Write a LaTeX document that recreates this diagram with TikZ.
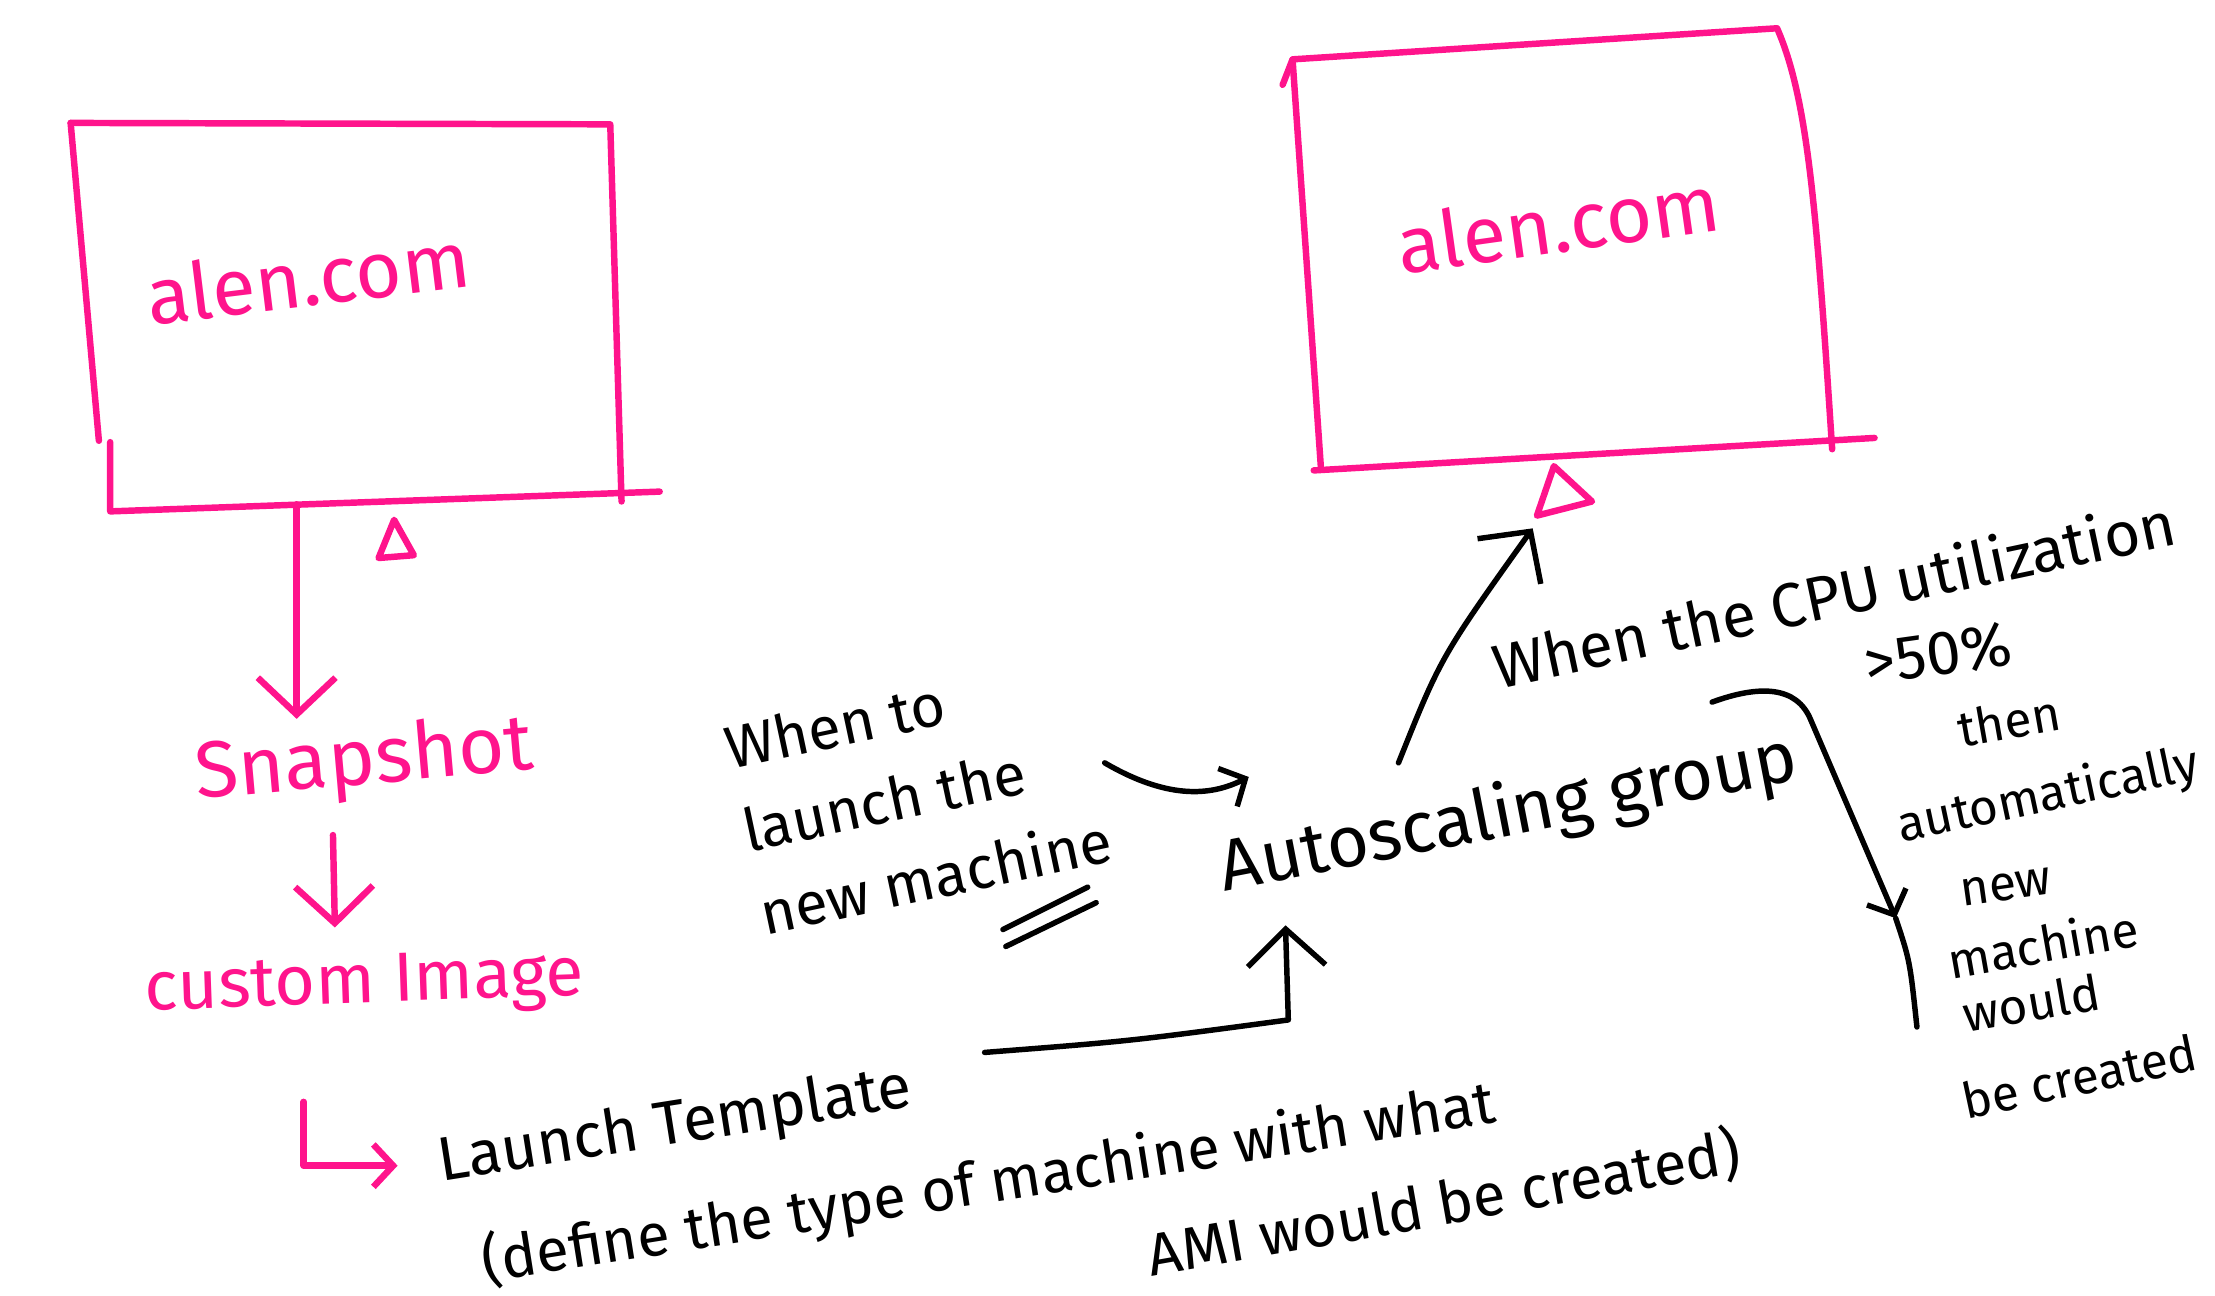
\documentclass[tikz,border=0pt]{standalone}
\usepackage{fontspec}
\setmainfont{Fira Sans}
\usetikzlibrary{positioning,arrows.meta}
\definecolor{markpink}{RGB}{255,20,140}
\tikzset{
    pinkline/.style={draw=markpink, line width=1.3pt, line cap=round, line join=round},
    inkline/.style={draw=black, line width=1.1pt, line cap=round, line join=round},
    pinktext/.style={text=markpink, font=\fontsize{16}{19}\selectfont, inner sep=1pt},
    inktext/.style={text=black, font=\fontsize{12.5}{15}\selectfont, inner sep=1pt},
    sidetext/.style={text=black, font=\fontsize{10}{12}\selectfont, inner sep=0.5pt},
    bigbarb/.style={-{Straight Barb[length=2.6mm,width=5.5mm]}},
    smallbarb/.style={-{Straight Barb[length=1.4mm,width=3mm]}}
}

\begin{document}
\begin{tikzpicture}[x=0.01cm, y=-0.01cm]
    \fill[white] (0,0) rectangle (1568,917);
    \useasboundingbox (0,0) rectangle (1568,917);

    % first machine
    \draw[pinkline] (50,87) -- (432,88) -- (440,355);
    \draw[pinkline] (50,87) -- (70,312);
    \draw[pinkline] (78,313) -- (78,362) -- (467,348);
    \draw[pinkline] (268,395) -- (293,393) -- (279,368) -- cycle;
    \node[pinktext, rotate=7] (alenA) at (218,196) {alen.com};
    \coordinate (shotA) at (210,357);

    % second machine
    \draw[pinkline] (908,60) -- (915,42) -- (1258,20)
        .. controls (1280,70) and (1286,150) .. (1297,318);
    \draw[pinkline] (915,42) -- (935,330);
    \draw[pinkline] (930,333) -- (1327,310);
    \draw[pinkline] (1088,365) -- (1127,355) -- (1100,330) -- cycle;
    \node[pinktext, rotate=8] (alenB) at (1103,158) {alen.com};
    \coordinate (triB) at (1085,374);

    % snapshot chain
    \node[pinktext, rotate=5] (snap) at (258,540) {Snapshot};
    \node[pinktext, font=\fontsize{14}{17}\selectfont, rotate=2] (custom) at (258,698) {custom Image};
    \node[inktext, rotate=9] (launch) at (478,798) {Launch Template};
    \node[inktext, font=\fontsize{12}{14}\selectfont, rotate=9] (define) at (700,838) {(define the type of machine with what};
    \node[inktext, font=\fontsize{12}{14}\selectfont, rotate=10] (ami) at (1022,852) {AMI would be created)};
    \coordinate (bendL) at (215,780);

    \draw[pinkline, bigbarb] (shotA) -- (shotA |- snap.north);
    \draw[pinkline, bigbarb] ([xshift=-0.25cm, yshift=-0.2cm]snap.south) -- ([xshift=-0.2cm, yshift=0.15cm]custom.north);
    \draw[pinkline, smallbarb] (bendL) |- ([xshift=-0.25cm]launch.west);

    % autoscaling group
    \node[inktext, font=\fontsize{14.5}{17}\selectfont, rotate=11] (asg) at (1068,577) {Autoscaling group};
    \node[inktext, align=left, font=\fontsize{12}{17}\selectfont, rotate=12] (whento) at (650,562) {When to\\launch the\\new machine};
    \coordinate (lt) at (697,745);
    \coordinate (asgIn) at (910,655);
    \coordinate (asgOut) at (990,540);
    \coordinate (hookOut) at (782,540);
    \coordinate (hookIn) at (884,550);

    \draw[inkline, bigbarb] (lt) .. controls (800,737) .. (912,722) -- (asgIn);
    \draw[inkline, bigbarb] (asgOut) .. controls (1020,465) .. (triB);
    \draw[inkline, smallbarb] (hookOut) .. controls (830,568) and (860,562) .. (hookIn);
    \draw[inkline] (710,658) -- (770,628);
    \draw[inkline] (712,670) -- (776,639);

    % scaling rule
    \node[inktext, rotate=12] (cpu) at (1298,420) {When the CPU utilization};
    \node[inktext, rotate=8] (limit) at (1372,463) {>50\%};
    \node[sidetext, rotate=10] (r1) at (1422,510) {then};
    \node[sidetext, rotate=12] (r2) at (1450,564) {automatically};
    \node[sidetext, rotate=8] (r3) at (1420,628) {new};
    \node[sidetext, rotate=10] (r4) at (1446,668) {machine};
    \node[sidetext, rotate=10] (r5) at (1438,710) {would};
    \node[sidetext, rotate=12] (r6) at (1472,762) {be created};
    \coordinate (brTop) at (1212,497);
    \coordinate (brMid) at (1342,650);
    \coordinate (brEnd) at (1357,727);

    \draw[inkline, smallbarb] (brTop) .. controls (1245,485) and (1272,485) .. (1282,510) -- (brMid);
    \draw[inkline] (brMid) .. controls (1352,680) .. (brEnd);
\end{tikzpicture}
\end{document}
